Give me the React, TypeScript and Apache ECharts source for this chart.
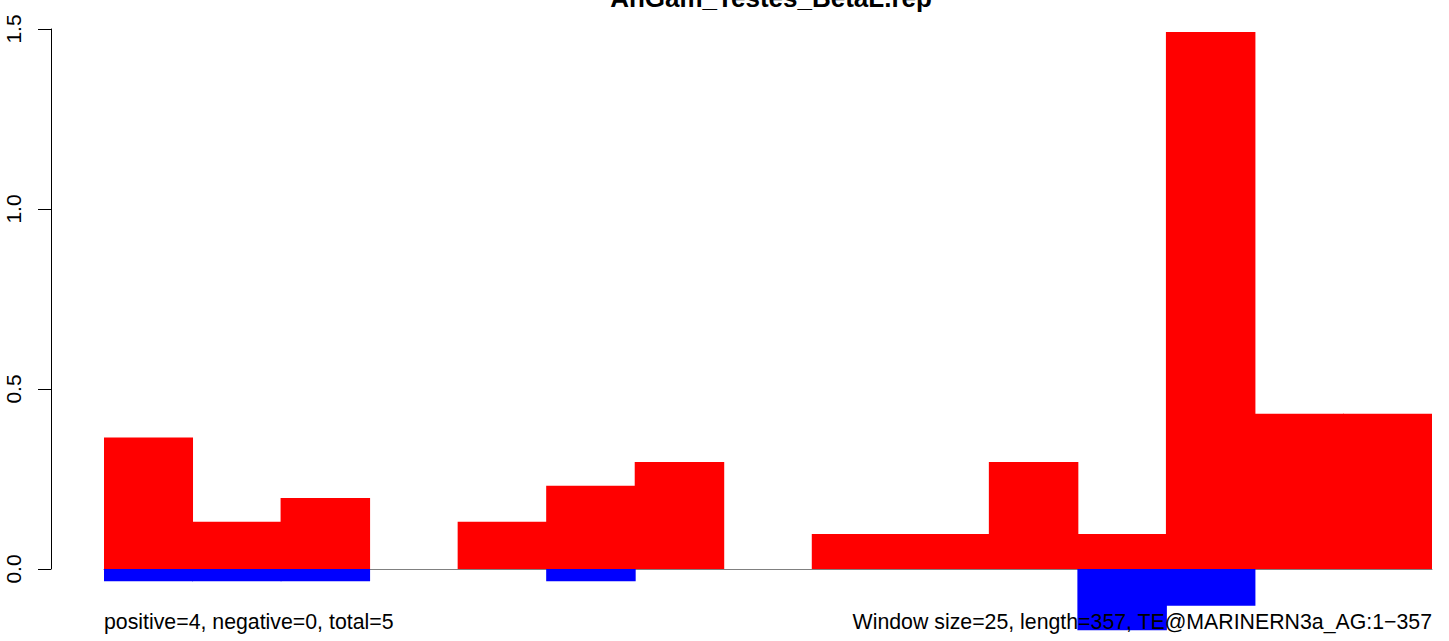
import React, { useEffect, useRef } from "react";
import * as echarts from "echarts";

const windows = ["1", "2", "3", "4", "5", "6", "7", "8", "9", "10", "11", "12", "13", "14", "15"];
const positiveValues = [0.365, 0.131, 0.197, 0, 0.131, 0.231, 0.297, 0, 0.097, 0.097, 0.297, 0.097, 1.492, 0.431, 0.431];
const negativeValues = [-0.034, -0.034, -0.034, 0, 0, -0.034, 0, 0, 0, 0, 0, -0.17, -0.102, 0, 0];
const titleText = "AnGam_Testes_BetaL.rep";
const leftNote = "positive=4, negative=0, total=5";
const rightNote = "Window size=25, length=357, TE@MARINERN3a_AG:1\u2212357";

const FONT = "'Liberation Sans', Arial, Helvetica, sans-serif";

const nonZero = (arr: number[]) => arr.map((v) => (v === 0 ? "-" : v));

export default function App() {
  const ref = useRef<HTMLDivElement>(null);
  useEffect(() => {
    if (!ref.current) return;
    const chart = echarts.init(ref.current, null, { renderer: "svg" });
    chart.setOption({
      animation: false,
      backgroundColor: "#ffffff",
      textStyle: { fontFamily: FONT },
      grid: [
        { left: 51, right: 17, top: 29, bottom: 72 },
        { left: 104, right: 17, top: 29, bottom: 0 },
      ],
      xAxis: [
        { gridIndex: 0, type: "category", data: windows, show: false },
        {
          gridIndex: 1,
          type: "category",
          data: windows,
          axisLine: { show: true, onZero: true, lineStyle: { color: "#808080", width: 1 } },
          axisTick: { show: false },
          axisLabel: { show: false },
          splitLine: { show: false },
          z: 1,
        },
      ],
      yAxis: [
        {
          gridIndex: 0,
          type: "value",
          min: 0,
          max: 1.5,
          interval: 0.5,
          axisLine: { show: true, lineStyle: { color: "#000", width: 1 } },
          axisTick: { show: true, length: 13, inside: false, lineStyle: { color: "#000", width: 1 } },
          axisLabel: {
            rotate: 90,
            margin: 27,
            color: "#000",
            fontSize: 21,
            fontFamily: FONT,
            formatter: (v: number) => v.toFixed(1),
          },
          splitLine: { show: false },
        },
        {
          gridIndex: 1,
          type: "value",
          min: -0.2,
          max: 1.5,
          show: false,
          splitLine: { show: false },
        },
      ],
      series: [
        {
          type: "bar",
          xAxisIndex: 1,
          yAxisIndex: 1,
          data: nonZero(positiveValues),
          barWidth: 89.5,
          barGap: "-100%",
          barCategoryGap: "0%",
          itemStyle: { color: "#ff0000" },
          z: 2,
        },
        {
          type: "bar",
          xAxisIndex: 1,
          yAxisIndex: 1,
          data: nonZero(negativeValues),
          barWidth: 89.5,
          barGap: "-100%",
          barCategoryGap: "0%",
          itemStyle: { color: "#0000ff" },
          z: 2,
        },
      ],
      graphic: [
        {
          type: "text",
          x: 771,
          y: -2,
          z: 10,
          style: {
            text: titleText,
            fontSize: 26,
            fontWeight: "bold",
            fontFamily: FONT,
            fill: "#000",
            textAlign: "center",
            textVerticalAlign: "middle",
          },
        },
        {
          type: "text",
          x: 104,
          y: 622,
          z: 10,
          style: {
            text: leftNote,
            fontSize: 21.3,
            fontFamily: FONT,
            fill: "#000",
            textAlign: "left",
            textVerticalAlign: "middle",
          },
        },
        {
          type: "text",
          x: 1432,
          y: 622,
          z: 10,
          style: {
            text: rightNote,
            fontSize: 21.3,
            fontFamily: FONT,
            fill: "#000",
            textAlign: "right",
            textVerticalAlign: "middle",
          },
        },
      ],
    });
    return () => chart.dispose();
  }, []);
  return (
    <div
      ref={ref}
      style={{ position: "fixed", left: 0, top: 0, width: 1449, height: 641, background: "#fff" }}
    />
  );
}
